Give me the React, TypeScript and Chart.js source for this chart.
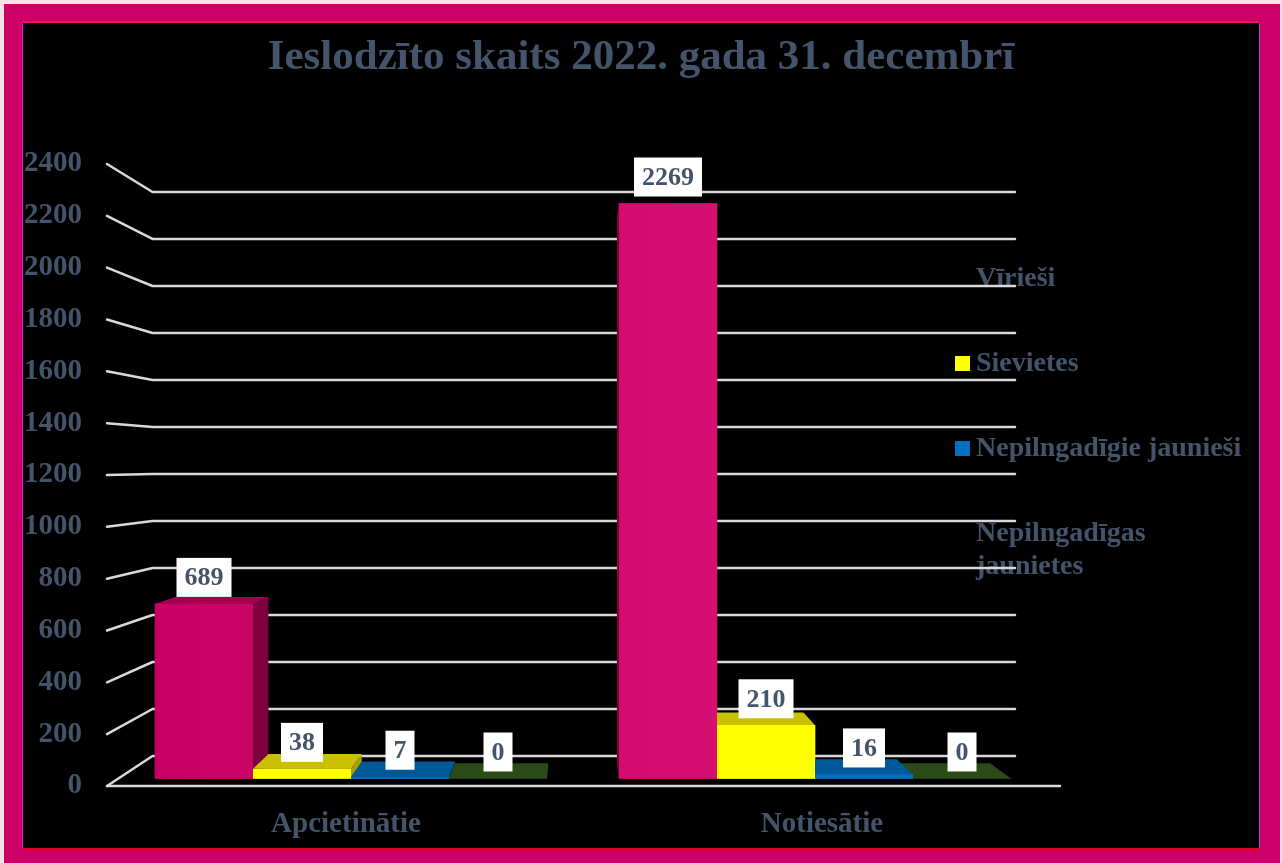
import React, { useEffect, useRef } from 'react';
import { Chart, registerables } from 'chart.js';

Chart.register(...registerables);

// ---------- data ----------
const categories = ['Apcietinātie', 'Notiesātie'];
const seriesNames = ['Vīrieši', 'Sievietes', 'Nepilngadīgie jaunieši', 'Nepilngadīgas jaunietes'];
const virieshi = [689, 2269];
const sievietes = [38, 210];
const nepilngadigieJaunieshi = [7, 16];
const nepilngadigasJaunietes = [0, 0];
const seriesValues = [virieshi, sievietes, nepilngadigieJaunieshi, nepilngadigasJaunietes];
const yMin = 0;
const yMax = 2400;
const yStep = 200;
const titleText = 'Ieslodzīto skaits 2022. gada 31. decembrī';

// ---------- styles ----------
const FONT = "'Liberation Serif', 'Times New Roman', serif";
const TEXT = '#44546A';
const frontColors = ['#D70A6E', '#FFFF00', '#0070C0', '#375623'];
const topColors = ['#A3004F', '#C9C000', '#005A9A', '#2B4A18'];
const sideColors = ['#7E003D', '#A8A000', '#004A80', '#1E3510'];
const legendMarkers = ['', '#FFFF00', '#0070C0', ''];

const W = 1282;
const H = 863;

const framePlugin = {
  id: 'frame',
  beforeDraw(chart: any) {
    const ctx = chart.ctx;
    ctx.save();
    ctx.fillStyle = '#F4E4EA';
    ctx.fillRect(0, 0, W, H);
    ctx.fillStyle = '#CC0066';
    ctx.fillRect(4, 4, 1276, H - 4);
    ctx.fillStyle = '#000000';
    ctx.fillRect(23, 23, 1236, 825);
    ctx.fillStyle = '#FF0A6E';
    ctx.fillRect(23, 21, 1236, 2);
    ctx.fillStyle = '#D020D0';
    ctx.fillRect(22, 23, 1, 825);
    ctx.fillStyle = '#E00020';
    ctx.fillRect(23, 848, 1236, 2);
    ctx.fillStyle = '#B040D0';
    ctx.fillRect(1259, 23, 1, 825);
    ctx.restore();
  },
};

const legendGridPlugin = {
  id: 'legendGrid',
  beforeDatasetsDraw(chart: any) {
    const ctx = chart.ctx;
    const area = chart.chartArea;
    ctx.save();
    // legend
    const textX = area.right - 84;
    const markX = area.right - 105;
    const lineH = 33;
    const gap = 52;
    let top = 262;
    ctx.font = `bold 28px ${FONT}`;
    ctx.textBaseline = 'middle';
    ctx.textAlign = 'left';
    const maxW = 275;
    chart.data.datasets.forEach((ds: any, i: number) => {
      const words = String(ds.label).split(' ');
      const lines: string[] = [];
      let cur = '';
      words.forEach((w: string) => {
        const t = cur ? cur + ' ' + w : w;
        if (ctx.measureText(t).width > maxW && cur) {
          lines.push(cur);
          cur = w;
        } else cur = t;
      });
      if (cur) lines.push(cur);
      const mc = legendMarkers[i];
      if (mc) {
        ctx.fillStyle = mc;
        ctx.fillRect(markX, top + lineH / 2 - 7.5, 15, 15);
      }
      ctx.fillStyle = TEXT;
      lines.forEach((ln, k) => {
        ctx.fillText(ln, textX, top + lineH / 2 + k * lineH);
      });
      top += lines.length * lineH + gap;
    });

    // perspective grid
    const yF = chart.scales.y;
    const yG = chart.scales.yg;
    const frontX = area.left - 1;
    const backX = area.left + 44.5;
    const backRight = area.right - 45;
    ctx.strokeStyle = '#D9D9D9';
    ctx.lineWidth = 2.5;
    ctx.lineCap = 'round';
    ctx.lineJoin = 'round';
    yF.ticks.forEach((t: any) => {
      const fy = yF.getPixelForValue(t.value);
      const by = yG.getPixelForValue(t.value);
      ctx.beginPath();
      ctx.moveTo(frontX, fy);
      ctx.lineTo(backX, by);
      ctx.lineTo(backRight, by);
      ctx.stroke();
      if (t.value === yMin) {
        ctx.beginPath();
        ctx.moveTo(frontX, fy);
        ctx.lineTo(area.right, fy);
        ctx.stroke();
      }
    });
    ctx.restore();
  },
};

const bars3dPlugin = {
  id: 'bars3d',
  afterDatasetsDraw(chart: any) {
    const ctx = chart.ctx;
    const area = chart.chartArea;
    const ex = 575;
    const ey = 460;
    const f = 0.048;
    const back = (px: number, py: number): [number, number] => [px - (px - ex) * f, py - (py - ey) * f];
    const pinkGrad = ctx.createLinearGradient(area.left, 0, area.right, 0);
    pinkGrad.addColorStop(0, '#C60062');
    pinkGrad.addColorStop(1, '#E2177C');
    const fronts = frontColors.map((c, i) => (i === 0 ? pinkGrad : c));
    const items: any[] = [];
    chart.data.datasets.forEach((ds: any, i: number) => {
      const meta = chart.getDatasetMeta(i);
      meta.data.forEach((el: any, j: number) => {
        const p = el.getProps(['x', 'y', 'base', 'width'], true);
        items.push({ i, j, ...p, value: ds.data[j].y });
      });
    });
    items.sort((a, b) => Math.abs(b.x - ex) - Math.abs(a.x - ex));
    ctx.save();
    const poly = (pts: [number, number][], color: any) => {
      ctx.beginPath();
      ctx.moveTo(pts[0][0], pts[0][1]);
      for (let k = 1; k < pts.length; k++) ctx.lineTo(pts[k][0], pts[k][1]);
      ctx.closePath();
      ctx.fillStyle = color;
      ctx.fill();
    };
    items.forEach((b) => {
      const L = b.x - b.width / 2;
      const R = b.x + b.width / 2;
      const T = Math.min(b.y, b.base);
      const B = Math.max(b.y, b.base);
      if (R < ex) {
        poly([[R, T], back(R, T), back(R, B), [R, B]], sideColors[b.i]);
      }
      if (L > ex) {
        poly([[L, T], back(L, T), back(L, B), [L, B]], sideColors[b.i]);
      }
      if (T > ey) {
        poly([[L, T], [R, T], back(R, T), back(L, T)], topColors[b.i]);
      }
      ctx.fillStyle = fronts[b.i];
      ctx.fillRect(L, T, R - L, B - T);
    });
    // value labels
    ctx.font = `bold 26px ${FONT}`;
    ctx.textAlign = 'center';
    ctx.textBaseline = 'middle';
    items.forEach((b) => {
      const txt = String(b.value);
      const tw = ctx.measureText(txt).width;
      const bw = tw + 16;
      const bh = 39;
      const bottom = Math.min(b.y, b.base) - 7;
      ctx.fillStyle = '#FFFFFF';
      ctx.fillRect(b.x - bw / 2, bottom - bh, bw, bh);
      ctx.fillStyle = TEXT;
      ctx.fillText(txt, b.x, bottom - bh / 2 + 1);
    });
    ctx.restore();
  },
};

const App = () => {
  const ref = useRef<HTMLCanvasElement>(null);
  useEffect(() => {
    const canvas = ref.current;
    if (!canvas) return;
    const chart = new Chart(canvas, {
      type: 'bar',
      data: {
        labels: categories,
        datasets: seriesNames.map((name, i) => ({
          label: name,
          data: seriesValues[i].map((v, j) => ({ x: j, y: v })),
          backgroundColor: frontColors[i],
          borderWidth: 0,
          xAxisID: 'xb',
          yAxisID: 'yb',
          barThickness: 98,
        })),
      },
      options: {
        responsive: true,
        maintainAspectRatio: false,
        animation: false,
        layout: { padding: { top: 13, right: 0, bottom: 0, left: 0 } },
        plugins: {
          legend: { display: false },
          tooltip: { enabled: false },
          title: {
            display: true,
            text: titleText,
            color: TEXT,
            font: { family: FONT, size: 43, weight: 'bold', lineHeight: 1.2 },
            padding: { top: 19, bottom: 80.4 },
          },
        },
        scales: {
          x: {
            type: 'category',
            position: 'bottom',
            offset: true,
            grid: { display: false },
            border: { display: false },
            ticks: { color: TEXT, font: { family: FONT, size: 29, weight: 'bold' }, padding: 13, maxRotation: 0 },
            afterFit: (s: any) => {
              s.height = 77;
            },
          },
          y: {
            type: 'linear',
            position: 'left',
            min: yMin,
            max: yMax,
            grid: { display: false },
            border: { display: false },
            ticks: {
              stepSize: yStep,
              color: TEXT,
              font: { family: FONT, size: 29, weight: 'bold' },
              padding: 18,
              callback: (v: any) => String(v),
            },
            afterFit: (s: any) => {
              s.width = 108;
            },
          },
          yr: {
            type: 'linear',
            position: 'right',
            display: true,
            min: 0,
            max: 1,
            grid: { display: false },
            border: { display: false },
            ticks: { display: false },
            afterFit: (s: any) => {
              s.width = 222;
            },
          },
          xb: { type: 'linear', display: false, min: -0.5237, max: 1.528, offset: false, bounds: 'data', grid: { offset: false } },
          yb: { type: 'linear', display: false, min: -29.6, max: 2424.9 },
          yg: { type: 'linear', display: false, min: -127.7, max: 2519.1 },
        },
      } as any,
      plugins: [framePlugin, legendGridPlugin, bars3dPlugin],
    });
    return () => chart.destroy();
  }, []);
  return (
    <div style={{ position: 'absolute', left: 0, top: 0, width: W, height: H }}>
      <canvas ref={ref} />
    </div>
  );
};

export default App;
